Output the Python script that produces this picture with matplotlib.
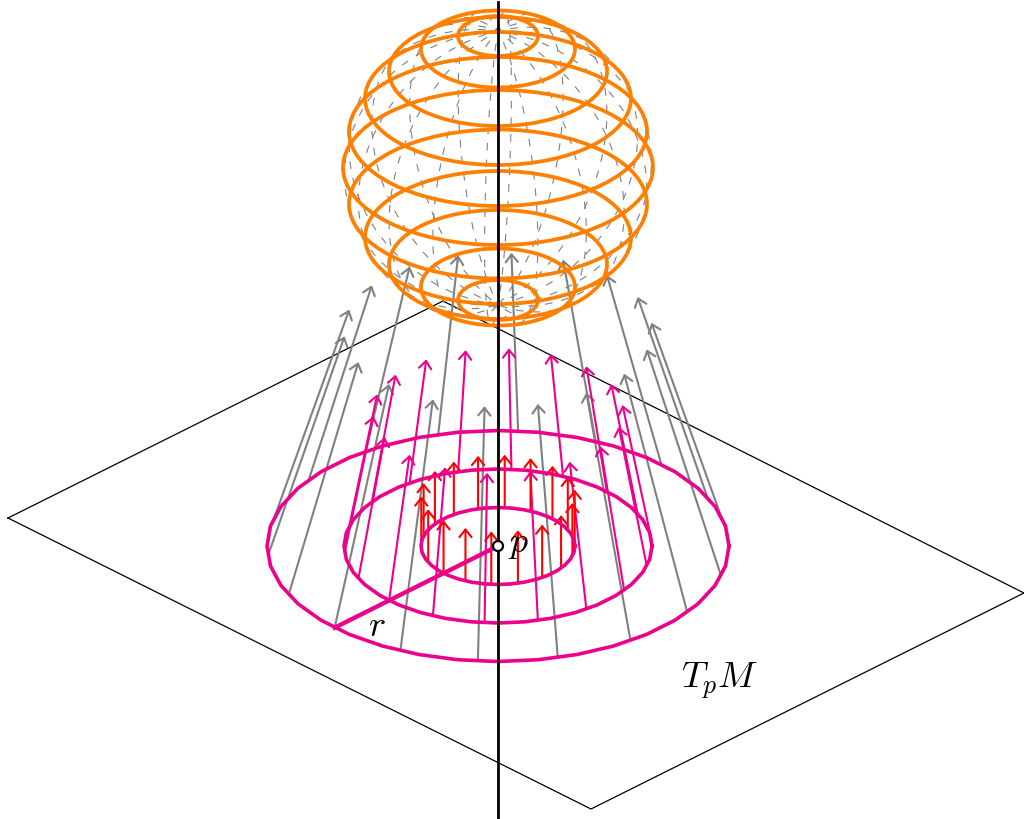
#!/usr/bin/env python3
import numpy as np
import matplotlib
matplotlib.use('Agg')
import matplotlib.pyplot as plt
from matplotlib.patches import Ellipse

plt.rcParams['mathtext.fontset'] = 'cm'
plt.rcParams['lines.scale_dashes'] = False

magenta = '#EC008C'
orange = '#FF8000'

# tangent plane corners
plane_x = [8, 443, 1024, 591, 8]
plane_y = [518, 301, 593, 809, 518]

# base point p
px, py = 498, 546

# circles on the plane and where their arrows end up
circle_radii = [231, 154, 77]
tip_cy = [329.5, 410.5, 493]
tip_rx = [154, 125, 77]
arrow_colors = ['gray', magenta, 'red']
angles = np.radians(np.arange(-5, 340, 20))

# sphere, latitude rings
sphere_cx, sphere_cy, sphere_r = 498, 168, 154
ring_rx = [40, 77, 109, 133, 149, 155, 149, 133, 109, 77, 40]
ring_cy = [36, 49, 71.5, 98.5, 131.5, 167.5, 204, 237.5, 264.5, 287, 300]

fig = plt.figure(figsize=(10.24, 8.19), dpi=100)
ax = fig.add_axes([0, 0, 1, 1])
ax.set_xlim(0, 1024)
ax.set_ylim(819, 0)
ax.axis('off')

ax.plot(plane_x, plane_y, color='black', lw=0.9, zorder=1)

# dashed meridians on the sphere
theta = np.radians(np.linspace(0, 180, 91))
for a in angles:
    mx = sphere_cx + sphere_r * np.sin(theta) * np.cos(a)
    my = sphere_cy - 137 * np.cos(theta) + sphere_r / 2 * np.sin(theta) * np.sin(a)
    ax.plot(mx, my, color='gray', lw=0.8, ls=(3, (5.5, 6.5)), zorder=2)

# arrows from each circle to the deformed circle
for r, cy, rx, c in zip(circle_radii, tip_cy, tip_rx, arrow_colors):
    for a in angles:
        start = (px + r * np.cos(a), py + r / 2 * np.sin(a))
        tip = (px + rx * np.cos(a), cy + rx / 2 * np.sin(a))
        ax.annotate('', xy=tip, xytext=start, zorder=3,
                    arrowprops=dict(arrowstyle='->,head_length=0.5,head_width=0.4',
                                    mutation_scale=11, color=c, lw=1.5,
                                    shrinkA=0, shrinkB=0))

# the circles themselves are coarse polygons
t = np.radians(np.arange(0, 361, 10))
for r in circle_radii:
    ax.plot(px + r * np.cos(t), py + r / 2 * np.sin(t), color=magenta, lw=2.6, zorder=4)
ax.plot([px, px + 231 * np.cos(angles[7])], [py, py + 115.5 * np.sin(angles[7])],
        color=magenta, lw=3.1, zorder=4)

for rx, cy in zip(ring_rx, ring_cy):
    ax.add_patch(Ellipse((sphere_cx, cy), 2 * rx, rx, fill=False, ec=orange, lw=2.7, zorder=5))

# axis and point
ax.plot([px, px], [2, 819], color='black', lw=2.0, zorder=6)
ax.add_patch(Ellipse((px, py), 10, 10, fc='white', ec='black', lw=1.6, zorder=7))

ax.text(508, 544, '$p$', fontsize=26, ha='left', va='center', zorder=8)
ax.text(377, 626, '$r$', fontsize=26, ha='center', va='center', zorder=8)
ax.text(720, 681, '$T_pM$', fontsize=26.5, ha='center', va='center', zorder=8)

fig.savefig('out.png', dpi=100)
